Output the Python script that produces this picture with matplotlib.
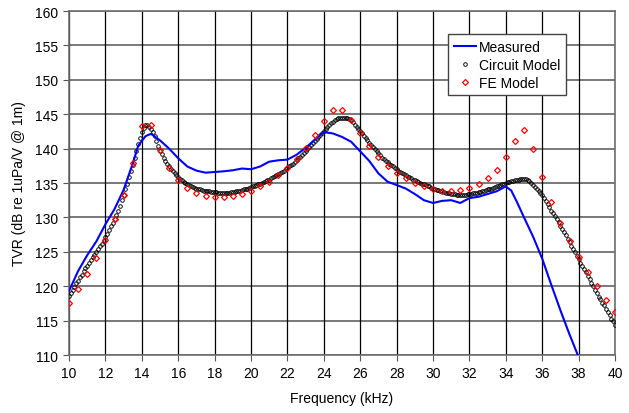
import numpy as np
import matplotlib
matplotlib.use("Agg")
import matplotlib.pyplot as plt

plt.rcParams['font.family'] = ['Liberation Sans', 'DejaVu Sans']

# Measured (blue line)
meas_f = [10.0, 10.5, 11.0, 11.5, 12.0, 12.5, 13.0, 13.5, 13.8, 14.2, 14.5, 15.0, 15.5,
          16.0, 16.5, 17.0, 17.5, 18.0, 18.5, 19.0, 19.5, 20.0, 20.5, 21.0, 21.5, 22.0,
          22.5, 23.0, 23.5, 24.0, 24.5, 25.0, 25.5, 26.0, 26.5, 27.0, 27.5, 28.0, 28.5,
          29.0, 29.5, 30.0, 30.5, 31.0, 31.5, 32.0, 32.5, 33.0, 33.5, 34.0, 34.3, 34.6,
          35.0, 35.5, 36.0, 36.5, 37.0, 37.5, 38.0]
meas_tvr = [119.3, 122.2, 124.5, 126.5, 129.0, 131.2, 134.0, 137.8, 140.4, 141.8, 142.15, 141.2, 140.0,
            138.6, 137.4, 136.8, 136.5, 136.6, 136.7, 136.85, 137.1, 137.0, 137.4, 138.1, 138.3, 138.4,
            139.1, 140.1, 141.3, 142.4, 142.2, 141.7, 141.0, 139.6, 138.2, 136.4, 135.2, 134.7, 134.2,
            133.4, 132.5, 132.1, 132.4, 132.5, 132.1, 132.8, 133.0, 133.4, 133.8, 134.5, 133.9, 132.3,
            130.0, 127.2, 124.0, 120.2, 116.5, 113.0, 109.7]

# Circuit model (black circles), 10.0 .. 40.0 kHz in 0.1 kHz steps
circ_f = [round(10.0 + 0.1 * i, 1) for i in range(301)]
circ_tvr = [
    118.6, 119.0, 119.5, 119.9, 120.4, 120.8, 121.3, 121.7, 122.2, 122.6,
    123.0, 123.4, 123.8, 124.2, 124.6, 125.0, 125.4, 125.8, 126.2, 126.6,
    127.1, 127.6, 128.1, 128.7, 129.2, 129.8, 130.4, 131.0, 131.7, 132.5,
    133.3, 134.1, 134.9, 135.8, 136.7, 137.6, 138.6, 139.6, 140.6, 141.5,
    142.4, 143.0, 143.4, 143.4, 143.2, 142.9, 142.4, 141.8, 141.1, 140.4,
    139.7, 139.2, 138.7, 138.2, 137.8, 137.4, 137.0, 136.7, 136.4, 136.1,
    135.8, 135.6, 135.4, 135.2, 135.0, 134.8, 134.7, 134.6, 134.4, 134.3,
    134.2, 134.1, 134.1, 134.0, 133.9, 133.9, 133.8, 133.8, 133.7, 133.7,
    133.7, 133.7, 133.6, 133.6, 133.6, 133.6, 133.6, 133.6, 133.6, 133.7,
    133.7, 133.7, 133.8, 133.9, 133.9, 134.0, 134.1, 134.2, 134.2, 134.3,
    134.4, 134.5, 134.6, 134.7, 134.8, 134.9, 135.0, 135.1, 135.3, 135.4,
    135.5, 135.7, 135.8, 136.0, 136.1, 136.3, 136.5, 136.6, 136.8, 137.0,
    137.2, 137.4, 137.6, 137.8, 138.1, 138.3, 138.6, 138.8, 139.1, 139.3,
    139.6, 139.9, 140.2, 140.5, 140.8, 141.1, 141.4, 141.7, 142.0, 142.3,
    142.6, 142.9, 143.2, 143.4, 143.7, 143.9, 144.1, 144.3, 144.4, 144.5,
    144.5, 144.5, 144.5, 144.4, 144.3, 144.1, 143.8, 143.5, 143.2, 142.9,
    142.6, 142.2, 141.9, 141.5, 141.2, 140.8, 140.5, 140.2, 139.9, 139.6,
    139.3, 139.0, 138.7, 138.5, 138.2, 138.0, 137.8, 137.6, 137.4, 137.2,
    137.0, 136.8, 136.6, 136.4, 136.3, 136.1, 135.9, 135.8, 135.7, 135.5,
    135.4, 135.3, 135.1, 135.0, 134.9, 134.8, 134.7, 134.6, 134.5, 134.3,
    134.2, 134.1, 134.0, 134.0, 133.9, 133.8, 133.7, 133.6, 133.6, 133.5,
    133.4, 133.4, 133.4, 133.3, 133.3, 133.3, 133.3, 133.3, 133.3, 133.4,
    133.4, 133.4, 133.5, 133.5, 133.6, 133.7, 133.7, 133.8, 133.9, 134.0,
    134.1, 134.2, 134.2, 134.3, 134.4, 134.5, 134.6, 134.7, 134.8, 134.9,
    135.0, 135.1, 135.2, 135.3, 135.3, 135.4, 135.5, 135.5, 135.6, 135.6,
    135.6, 135.6, 135.5, 135.3, 135.0, 134.7, 134.4, 134.1, 133.8, 133.5,
    133.2, 132.8, 132.4, 131.9, 131.5, 131.0, 130.6, 130.2, 129.7, 129.3,
    128.8, 128.3, 127.9, 127.4, 126.9, 126.4, 125.9, 125.4, 124.9, 124.4,
    123.9, 123.4, 123.0, 122.5, 122.0, 121.5, 121.0, 120.5, 120.0, 119.5,
    119.0, 118.5, 118.1, 117.6, 117.2, 116.7, 116.2, 115.8, 115.3, 114.9,
    114.4]

# FE model (red diamonds), 10.0 .. 40.0 kHz in 0.5 kHz steps
fe_f = [round(10.0 + 0.5 * i, 1) for i in range(61)]
fe_tvr = [117.6, 119.6, 121.8, 124.1, 126.7, 129.7, 133.2, 137.95, 143.3, 143.5,
          139.8, 137.2, 135.5, 134.3, 133.6, 133.1, 133.0, 133.0, 133.1, 133.4,
          133.9, 134.5, 135.1, 136.1, 137.2, 138.5, 140.1, 142.0, 144.0, 145.55,
          145.65, 144.1, 142.3, 140.4, 138.8, 137.5, 136.5, 135.7, 135.0, 134.5,
          134.1, 133.9, 133.8, 134.0, 134.3, 134.8, 135.7, 136.9, 138.8, 141.15,
          142.65, 140.0, 135.9, 132.3, 129.2, 126.6, 124.2, 122.0, 120.0, 118.0,
          116.25]

x_ticks = list(range(10, 41, 2))
y_ticks = list(range(110, 161, 5))

fig = plt.figure(figsize=(6.29, 4.14), dpi=100)
ax = fig.add_axes([69 / 629, 1 - 356 / 414, 546 / 629, 344 / 414])

ax.plot(circ_f, circ_tvr, linestyle='none', marker='o', markersize=2.6,
        markerfacecolor='none', markeredgecolor='black', markeredgewidth=0.65,
        label='Circuit Model', zorder=3)
ax.plot(meas_f, meas_tvr, color='#0000ff', linewidth=1.5, label='Measured', zorder=4)
ax.plot(fe_f, fe_tvr, linestyle='none', marker='D', markersize=3.0,
        markerfacecolor='none', markeredgecolor='#ff0000', markeredgewidth=0.9,
        label='FE Model', zorder=5)

ax.set_xlim(10, 40)
ax.set_ylim(110, 160)
ax.set_xticks(x_ticks)
ax.set_yticks(y_ticks)
ax.tick_params(axis='both', labelsize=10, length=4, direction='out', color='#555555', pad=4)

for y in y_ticks:
    ax.axhline(y, color='#6e6e6e', linewidth=1.3, zorder=1)
for x in x_ticks:
    ax.axvline(x, color='black', linewidth=0.9, zorder=1)

for s in ax.spines.values():
    s.set_color('#6e6e6e')
    s.set_linewidth(1.2)

ax.set_xlabel('Frequency (kHz)', fontsize=10, labelpad=8)
ax.set_ylabel('TVR (dB re 1uPa/V @ 1m)', fontsize=10, labelpad=6)

handles, labels = ax.get_legend_handles_labels()
order = [1, 0, 2]
leg = ax.legend([handles[i] for i in order], [labels[i] for i in order],
                loc='upper right', bbox_to_anchor=(0.91, 0.933), fontsize=10,
                frameon=True, fancybox=False, edgecolor='#444444', framealpha=1,
                borderpad=0.4, labelspacing=0.3, handlelength=1.6, handletextpad=0.2,
                borderaxespad=0)
leg.get_frame().set_linewidth(1.0)

fig.savefig('out.png', dpi=100)
